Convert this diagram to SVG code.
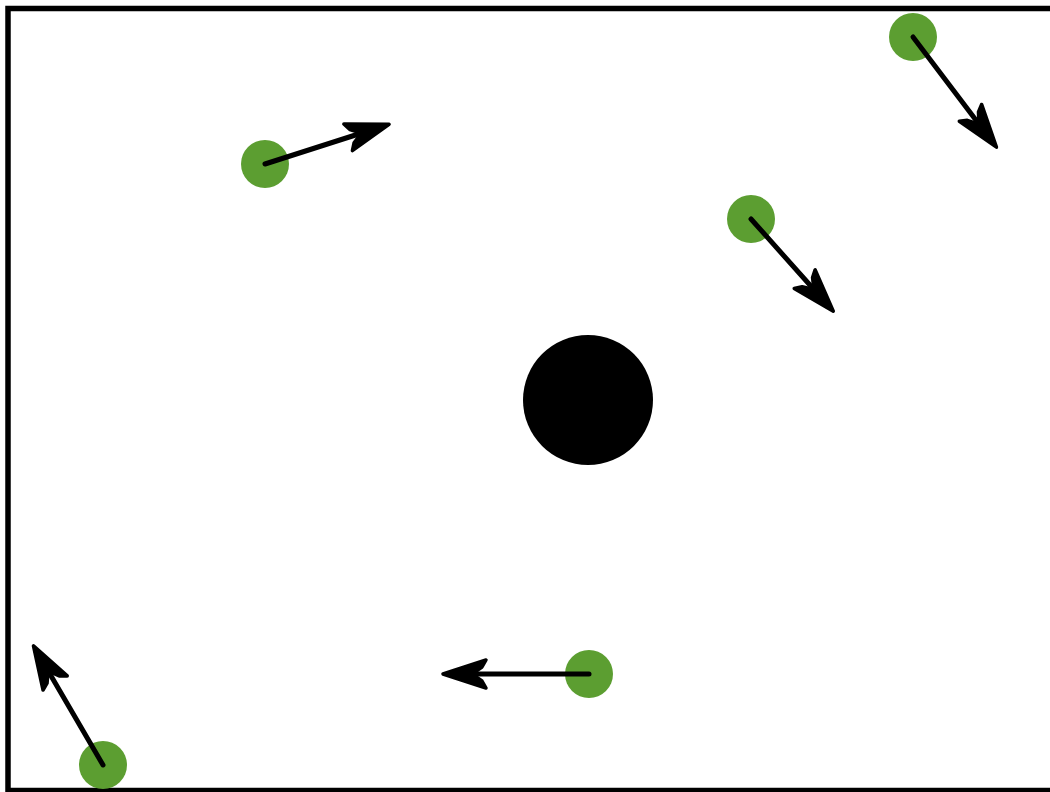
<svg xmlns="http://www.w3.org/2000/svg" width="1050" height="792" viewBox="0 0 1050 792">
<style>
.p{fill:#5c9e31}
.v{stroke:#000;stroke-width:5;fill:none;stroke-linecap:round;marker-end:url(#ah)}
</style>
<defs>
<marker id="ah" markerUnits="userSpaceOnUse" markerWidth="70" markerHeight="50" viewBox="-50 -25 70 50" refX="0" refY="0" orient="auto">
<path d="M9,0 L-34,-14 L-30,-7 L-20,0 L-30,7 L-34,14 Z" fill="#000" stroke="#000" stroke-width="3.5" stroke-linejoin="round"/>
</marker>
</defs>
<rect width="1050" height="792" fill="#fff"/>
<rect x="8" y="8.5" width="1060" height="782" fill="none" stroke="#000" stroke-width="5.5"/>
<g id="mass"><circle cx="588" cy="400" r="65" fill="#000"/></g>
<g id="p1"><circle class="p" cx="265" cy="164" r="24"/></g>
<g id="p2"><circle class="p" cx="913" cy="37" r="24"/></g>
<g id="p3"><circle class="p" cx="751" cy="219" r="24"/></g>
<g id="p4"><circle class="p" cx="589" cy="674" r="24"/></g>
<g id="p5"><circle class="p" cx="103" cy="765" r="24"/></g>
<g id="connectors">
<line class="v" x1="265" y1="164" x2="380.5" y2="127"/>
<line class="v" x1="913" y1="37" x2="991" y2="140"/>
<line class="v" x1="751" y1="219" x2="827.3" y2="304.5"/>
<line class="v" x1="589" y1="674" x2="452" y2="674"/>
<line class="v" x1="103" y1="765" x2="38" y2="653.6"/>
</g>
</svg>
